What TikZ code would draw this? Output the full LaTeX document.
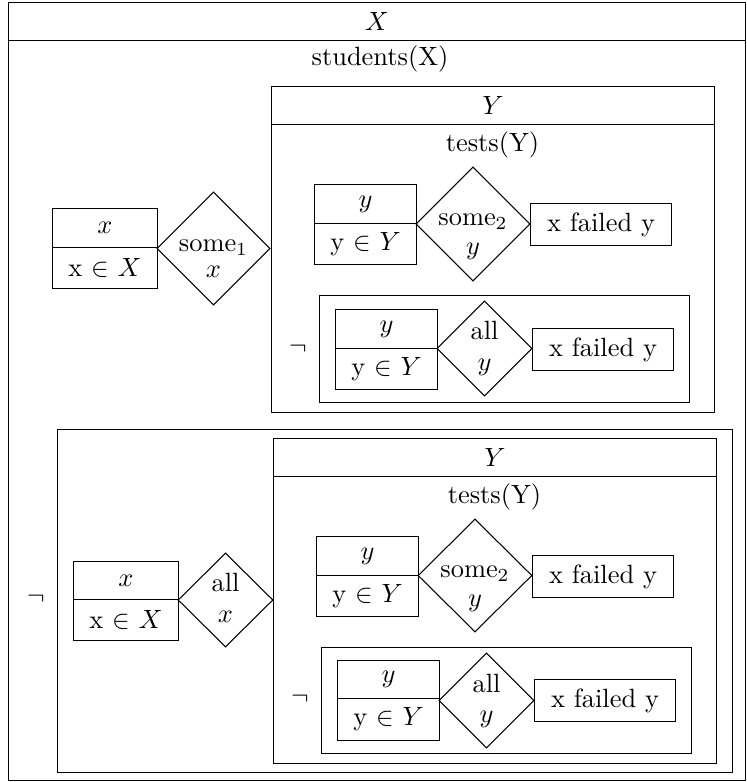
\documentclass[tikz,border=0pt]{standalone}
\usetikzlibrary{shapes.geometric}
\newcommand\pxu{0.3788pt}
\tikzset{
  cellst/.style={draw, inner sep=0pt, anchor=north west, line width=0.4pt},
  diast/.style={draw, diamond, inner sep=0pt, aspect=1, line width=0.4pt},
  lblst/.style={inner sep=0pt},
  basest/.style={inner sep=0pt, anchor=base},
}
% name, left, top, right, bottom, text
\newcommand\cellnode[6]{\node[cellst, minimum width={(#4-#2)*\pxu}, minimum height={(#5-#3)*\pxu}] (#1) at (#2,#3) {#6};}
% name, left, top, right, bottom
\newcommand\dianode[5]{\node[diast, minimum width={(#4-#2)*\pxu}, minimum height={(#5-#3)*\pxu}] (#1) at ({(#2+#4)/2},{(#3+#5)/2}) {};}
\begin{document}
\begin{tikzpicture}[x=0.3788pt, y=-0.3788pt]
\useasboundingbox (0,0) rectangle (746,782);
% outer frame
\cellnode{Xh}{8}{2}{744.5}{40}{$X$}
\cellnode{Xb}{8}{40}{744.5}{780}{}
\node[lblst] (stud) at (380,59) {students(X)};
% left row (some_1)
\cellnode{xa1}{52}{208}{157}{247}{$x$}
\cellnode{xa2}{52}{247}{157}{288}{x $\in$ $X$}
\dianode{da}{157}{192}{270}{305}
\node[basest] (da1) at (213.5,251.5) {some$_1$};
\node[basest] (da2) at (213.5,277.5) {$x$};
% top Y box
\cellnode{Yah}{271}{86}{714}{124}{$Y$}
\cellnode{Yab}{271}{124}{714}{412}{}
\node[lblst] (ta) at (492.5,145) {tests(Y)};
\cellnode{ya1}{314}{184}{416}{223}{$y$}
\cellnode{ya2}{314}{223}{416}{264}{y $\in$ $Y$}
\dianode{dsa}{416}{167}{530}{281}
\node[basest] (dsa1) at (473,226) {some$_2$};
\node[basest] (dsa2) at (473,255) {$y$};
\cellnode{fa}{530}{203}{671}{245}{x failed y}
\cellnode{na}{319}{295}{689}{402}{}
\node[lblst] (nega) at (298,348.5) {$\neg$};
\cellnode{yb1}{335}{309}{437}{348}{$y$}
\cellnode{yb2}{335}{348}{437}{389}{y $\in$ $Y$}
\dianode{dya}{437}{301}{532}{396}
\node[basest] (dya1) at (484.5,340) {all};
\node[basest] (dya2) at (484.5,370.5) {$y$};
\cellnode{fb}{532}{328}{673}{370}{x failed y}
% bottom negated box
\cellnode{nb}{57}{429}{732}{772}{}
\node[lblst] (negb) at (36,599) {$\neg$};
\cellnode{xc1}{73}{561}{178}{599}{$x$}
\cellnode{xc2}{73}{599}{178}{640}{x $\in$ $X$}
\dianode{dxc}{178}{553}{273}{647}
\node[basest] (dxc1) at (225.5,591.5) {all};
\node[basest] (dxc2) at (225.5,622.5) {$x$};
\cellnode{Ych}{273}{438}{716}{476}{$Y$}
\cellnode{Ycb}{273}{476}{716}{763}{}
\node[lblst] (tc) at (494.5,497) {tests(Y)};
\cellnode{yc1}{316}{536}{418}{575}{$y$}
\cellnode{yc2}{316}{575}{418}{616}{y $\in$ $Y$}
\dianode{dsc}{418}{519}{532}{632}
\node[basest] (dsc1) at (475,577.5) {some$_2$};
\node[basest] (dsc2) at (475,606.5) {$y$};
\cellnode{fc}{532}{555}{673}{597}{x failed y}
\cellnode{nc}{321}{647}{691}{753}{}
\node[lblst] (negc) at (300,699) {$\neg$};
\cellnode{yd1}{337}{660}{439}{698}{$y$}
\cellnode{yd2}{337}{698}{439}{740}{y $\in$ $Y$}
\dianode{dyd}{439}{653}{534}{748}
\node[basest] (dyd1) at (486.5,692) {all};
\node[basest] (dyd2) at (486.5,722.5) {$y$};
\cellnode{fd}{534}{679}{675}{721}{x failed y}
\end{tikzpicture}
\end{document}
